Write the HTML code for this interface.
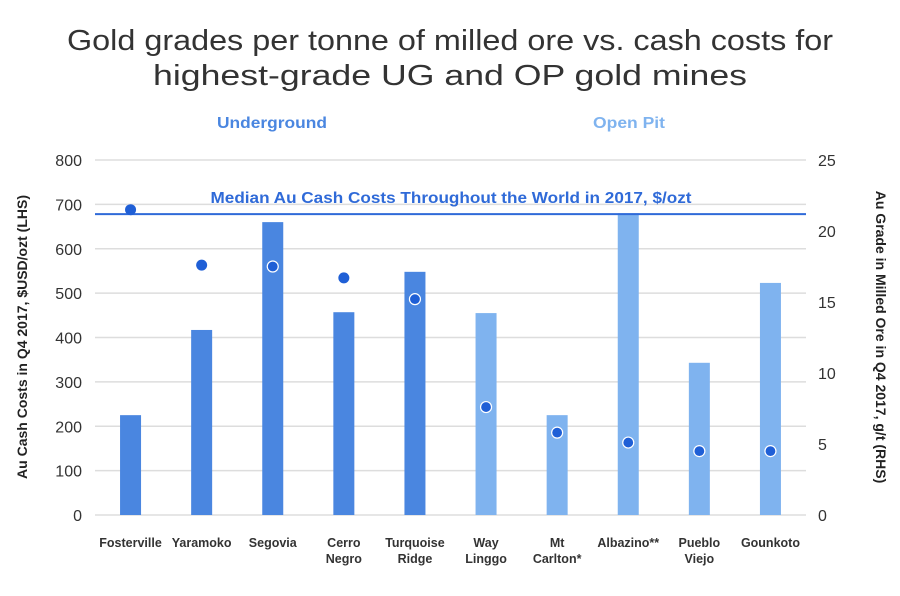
<!DOCTYPE html>
<html><head><meta charset="utf-8"><style>
body{margin:0;background:#fff;font-family:"Liberation Sans",sans-serif}
</style></head><body>
<svg id="c" width="900" height="591" xmlns="http://www.w3.org/2000/svg">
<text x="450" y="50" text-anchor="middle" font-size="29" fill="#333" textLength="766" lengthAdjust="spacingAndGlyphs">Gold grades per tonne of milled ore vs. cash costs for</text>
<text x="450" y="85" text-anchor="middle" font-size="29" fill="#333" textLength="594" lengthAdjust="spacingAndGlyphs">highest-grade UG and OP gold mines</text>
<text x="272" y="128" text-anchor="middle" font-size="16" font-weight="bold" fill="#4a86e0" textLength="110" lengthAdjust="spacingAndGlyphs">Underground</text>
<text x="629" y="128" text-anchor="middle" font-size="16" font-weight="bold" fill="#7fb3ef" textLength="72" lengthAdjust="spacingAndGlyphs">Open Pit</text>
<text transform="translate(27,337) rotate(-90)" text-anchor="middle" font-size="14" font-weight="bold" fill="#222">Au Cash Costs in Q4 2017, $USD/ozt (LHS)</text>
<text transform="translate(876,337) rotate(90)" text-anchor="middle" font-size="14" font-weight="bold" fill="#222">Au Grade in Milled Ore in Q4 2017, g/t (RHS)</text>
<g id="g"></g>
</svg>
<script>
const categories=["Fosterville","Yaramoko","Segovia","Cerro Negro","Turquoise Ridge","Way Linggo","Mt Carlton*","Albazino**","Pueblo Viejo","Gounkoto"];
const mineType=["UG","UG","UG","UG","UG","OP","OP","OP","OP","OP"];
const cashCosts=[225,417,660,457,548,455,225,680,343,523];
const grades=[21.5,17.6,17.5,16.7,15.2,7.6,5.8,5.1,4.5,4.5];
const leftTicks=[0,100,200,300,400,500,600,700,800];
const rightTicks=[0,5,10,15,20,25];
const medianCost=678;
const NS="http://www.w3.org/2000/svg";
const g=document.getElementById('g');
const x0=95,x1=806,yb=515,yt=160;
const yL=v=>yb-(v/800)*(yb-yt);
const yR=v=>yb-(v/25)*(yb-yt);
const xC=i=>x0+(x1-x0)*(i+0.5)/categories.length;
function mk(t,a){const e=document.createElementNS(NS,t);for(const k in a)e.setAttribute(k,a[k]);g.appendChild(e);return e;}
leftTicks.forEach(v=>{
 const l=mk('line',{x1:x0,x2:x1,y1:yL(v),y2:yL(v),stroke:'#ddd','stroke-width':1.5});
 
 
 const t=mk('text',{x:82,y:yL(v)+6,'text-anchor':'end','font-size':16,fill:'#333'});t.textContent=v;
 
 
});
rightTicks.forEach(v=>{
 const t=mk('text',{x:818,y:yR(v)+6,'text-anchor':'start','font-size':16,fill:'#333'});t.textContent=v;
 
 
});
categories.forEach((c,i)=>{
 const b=mk('rect',{x:xC(i)-10.5,y:yL(cashCosts[i]),width:21,height:yb-yL(cashCosts[i]),fill:mineType[i]=="UG"?'#4a86e0':'#7fb3ef'});
 
 
 const parts=c.split(' ');
 const lines=(c==="Fosterville"||c==="Yaramoko"||c==="Segovia"||c==="Albazino**"||c==="Gounkoto")?[c]:parts;
 lines.forEach((s,k)=>{
  const t=mk('text',{x:xC(i),y:547+k*16,'text-anchor':'middle','font-size':12.5,'font-weight':'bold',fill:'#333'});t.textContent=s;
  
  
 });
});
const ml=mk('line',{x1:x0,x2:x1,y1:yL(medianCost),y2:yL(medianCost),stroke:'#2f6ad8','stroke-width':2});


const mt=mk('text',{x:451,y:yL(medianCost)-11,'text-anchor':'middle','font-size':15.5,'font-weight':'bold',fill:'#2f6ad8',textLength:481,lengthAdjust:'spacingAndGlyphs'});mt.textContent="Median Au Cash Costs Throughout the World in 2017, $/ozt";


grades.forEach((v,i)=>{
 const inBar=yR(v)>yL(cashCosts[i]);
 const d=mk('circle',{cx:xC(i),cy:yR(v),r:5.5,fill:'#1f5fd6',stroke:inBar?'#fff':'none','stroke-width':1.2});
 
 
});
</script>
</body></html>
